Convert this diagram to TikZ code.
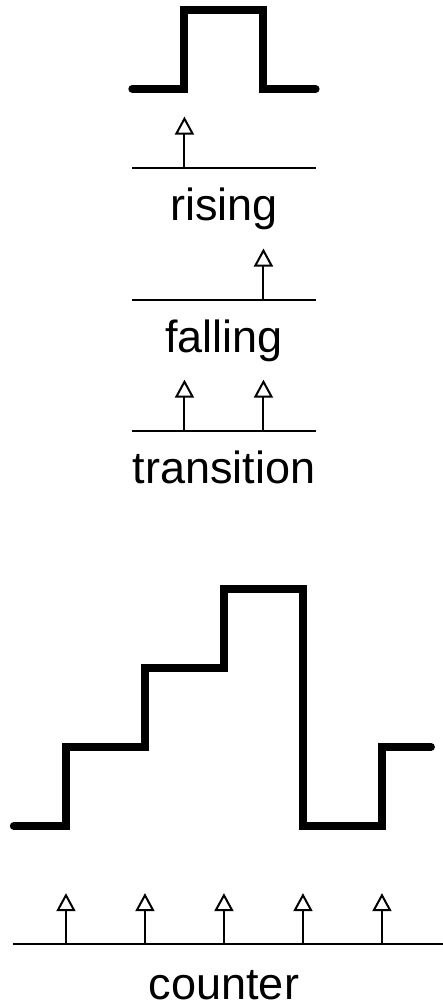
\documentclass[tikz,border=0pt]{standalone}
\usepackage{fontspec}
\setmainfont{Liberation Sans}
\usetikzlibrary{arrows.meta}

\begin{document}
\begin{tikzpicture}[x=39.5pt, y=39.5pt, >={Triangle[open, width=9.5pt, length=9pt]}, font=\fontsize{22.5}{27}\selectfont]
      \tikzstyle{signal}=[line width=4pt, line cap=round, line join=miter]
      \tikzstyle{axis}=[line width=1pt]
      \tikzstyle{tick}=[->, line width=1pt]
      \tikzstyle{label}=[anchor=base, inner sep=0pt]
      \useasboundingbox (-0.835,-2.266) rectangle (4.772,10.456);

      % single pulse
      \draw[signal] (0.84,9.33) -- (1.5,9.33) -- (1.5,10.33) -- (2.5,10.33) -- (2.5,9.33) -- (3.16,9.33);

      % rising edge
      \draw[axis] (0.84,8.33) -- (3.16,8.33);
      \draw[tick] (1.5,8.33) -- ++(0,0.65);
      \node[label] (rising) at (2,7.66) {rising};

      % falling edge
      \draw[axis] (0.84,6.66) -- (3.16,6.66);
      \draw[tick] (2.5,6.66) -- ++(0,0.65);
      \node[label] (falling) at (2,5.99) {falling};

      % both edges
      \draw[axis] (0.84,5) -- (3.16,5);
      \draw[tick] (1.5,5) -- ++(0,0.65);
      \draw[tick] (2.5,5) -- ++(0,0.65);
      \node[label] (transition) at (2,4.33) {transition};

      % counter staircase
      \draw[signal] (-0.66,0) -- (0,0) -- (0,1) -- (1,1) -- (1,2) -- (2,2) -- (2,3) -- (3,3)
                    -- (3,0) -- (4,0) -- (4,1) -- (4.62,1);
      \draw[axis] (-0.67,-1.5) -- (4.772,-1.5);
      \foreach \i in {0,...,4}
        \draw[tick] (\i,-1.5) -- ++(0,0.65);
      \node[label] (counter) at (2,-2.2) {counter};
\end{tikzpicture}
\end{document}
